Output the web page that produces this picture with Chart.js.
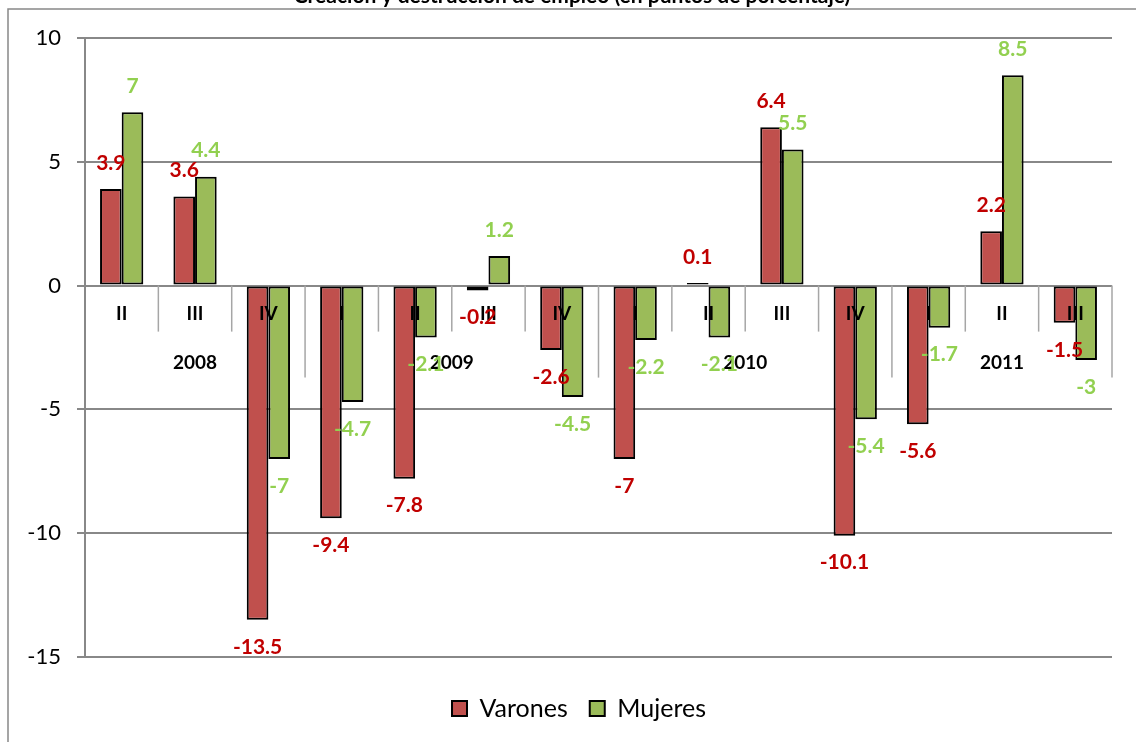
<!DOCTYPE html>
<html>
<head>
<meta charset="utf-8">
<script src="https://cdn.jsdelivr.net/npm/chart.js@4.4.0/dist/chart.umd.min.js"></script>
<style>
  html, body { margin: 0; padding: 0; background: #fff; }
  #wrap { width: 1136px; height: 742px; overflow: hidden; }
</style>
</head>
<body>
<div id="wrap"><canvas id="empleoChart" width="1136" height="742"></canvas></div>
<script>
// quarters on the axis and the year each one belongs to
const quarters = ['II', 'III', 'IV', 'I', 'II', 'III', 'IV', 'I', 'II', 'III', 'IV', 'I', 'II', 'III'];
const yearOf = ['2008', '2008', '2008', '2009', '2009', '2009', '2009', '2010', '2010', '2010', '2010', '2011', '2011', '2011'];

// series values (tasas, puntos de porcentaje)
const varones = [3.9, 3.6, -13.5, -9.4, -7.8, -0.2, -2.6, -7, 0.1, 6.4, -10.1, -5.6, 2.2, -1.5];
const mujeres = [7, 4.4, -7, -4.7, -2.1, 1.2, -4.5, -2.2, -2.1, 5.5, -5.4, -1.7, 8.5, -3];

const yTicks = [10, 5, 0, -5, -10, -15];
const chartTitle = 'Creación y destrucción de empleo (en puntos de porcentaje)';

const FONT = 'Lato, "Open Sans", sans-serif';
const GRID = '#888888';

// draws the Excel-like frame, the 2-level category axis and value labels
const excelDecor = {
    id: 'excelDecor',
    afterLayout(chart) {
        // legend in the original is centred a bit right of the canvas middle
        chart.legend.left += 23;
        chart.legend.right += 23;
    },
    beforeDraw(chart) {
        const ctx = chart.ctx;
        ctx.save();
        ctx.fillStyle = '#fff';
        ctx.fillRect(0, 0, chart.width, chart.height);
        // title sits above the frame, mostly cut off by the page
        ctx.fillStyle = '#000';
        ctx.font = 'bold 21px ' + FONT;
        ctx.textAlign = 'center';
        ctx.textBaseline = 'alphabetic';
        ctx.fillText(chartTitle, 572, 3);
        ctx.strokeStyle = GRID;
        ctx.lineWidth = 1.5;
        ctx.strokeRect(8, 9, chart.width + 50, chart.height + 50);
        ctx.restore();
    },
    beforeDatasetsDraw(chart) {
        const ctx = chart.ctx;
        const x = chart.scales.x;
        const zeroY = chart.scales.y.getPixelForValue(0);
        const step = x.getPixelForValue(1) - x.getPixelForValue(0);
        ctx.save();
        ctx.strokeStyle = '#a6a6a6';
        ctx.lineWidth = 1.5;
        for (let k = 1; k <= quarters.length; k++) {
            const px = x.getPixelForValue(k - 1) + step / 2;
            const long = k === quarters.length || yearOf[k] !== yearOf[k - 1];
            ctx.beginPath();
            ctx.moveTo(px, zeroY);
            ctx.lineTo(px, zeroY + (long ? 92 : 46));
            ctx.stroke();
        }
        ctx.restore();
    },
    afterDatasetsDraw(chart) {
        const ctx = chart.ctx;
        const x = chart.scales.x;
        const y = chart.scales.y;
        const zeroY = y.getPixelForValue(0);
        ctx.save();
        ctx.textAlign = 'center';
        ctx.textBaseline = 'middle';
        ctx.fillStyle = '#000';
        ctx.font = 'bold 19px ' + FONT;
        quarters.forEach((q, i) => ctx.fillText(q, x.getPixelForValue(i), zeroY + 28));

        // year labels centred under their quarters
        ctx.font = 'bold 19px ' + FONT;
        let start = 0;
        for (let i = 1; i <= yearOf.length; i++) {
            if (i === yearOf.length || yearOf[i] !== yearOf[start]) {
                const cx = (x.getPixelForValue(start) + x.getPixelForValue(i - 1)) / 2;
                ctx.fillText(yearOf[start], cx, zeroY + 77);
                start = i;
            }
        }

        // data labels, outside end of every bar
        const labelColors = ['#c00000', '#92d050'];
        ctx.font = 'bold 21px ' + FONT;
        chart.data.datasets.forEach((ds, d) => {
            const meta = chart.getDatasetMeta(d);
            ctx.fillStyle = labelColors[d];
            meta.data.forEach((bar, i) => {
                const v = ds.data[i];
                const ly = v >= 0 ? bar.y - 26 : bar.y + 27;
                ctx.fillText(String(v), bar.x, ly);
            });
        });
        ctx.restore();
    }
};

const ctx = document.getElementById('empleoChart').getContext('2d');
const chartInstance = new Chart(ctx, {
    type: 'bar',
    data: {
        labels: quarters,
        datasets: [
            {
                label: 'Varones',
                data: varones,
                backgroundColor: '#c0504d',
                borderColor: '#000',
                borderWidth: 2,
                borderSkipped: false,
                categoryPercentage: 0.59,
                barPercentage: 1
            },
            {
                label: 'Mujeres',
                data: mujeres,
                backgroundColor: '#9bbb59',
                borderColor: '#000',
                borderWidth: 2,
                borderSkipped: false,
                categoryPercentage: 0.59,
                barPercentage: 1
            }
        ]
    },
    options: {
        responsive: false,
        animation: false,
        layout: { padding: { top: 38, right: 24, left: 0, bottom: 11 } },
        plugins: {
            title: { display: false },
            tooltip: { enabled: false },
            legend: {
                position: 'bottom',
                labels: {
                    font: { family: FONT, size: 25 },
                    color: '#000',
                    boxWidth: 15,
                    boxHeight: 15,
                    padding: 22
                }
            }
        },
        scales: {
            x: {
                ticks: { display: false },
                grid: { display: false },
                border: { display: false },
                afterFit(scale) { scale.height = 17; }
            },
            y: {
                min: -15,
                max: 10,
                afterBuildTicks(scale) { scale.ticks = yTicks.map(v => ({ value: v })); },
                ticks: {
                    font: { family: FONT, size: 22 },
                    color: '#000',
                    padding: 16
                },
                grid: { color: GRID, lineWidth: 2, tickLength: 8 },
                border: { color: GRID, width: 2 },
                afterFit(scale) { scale.width = 85; }
            }
        }
    },
    plugins: [excelDecor]
});
</script>
</body>
</html>
